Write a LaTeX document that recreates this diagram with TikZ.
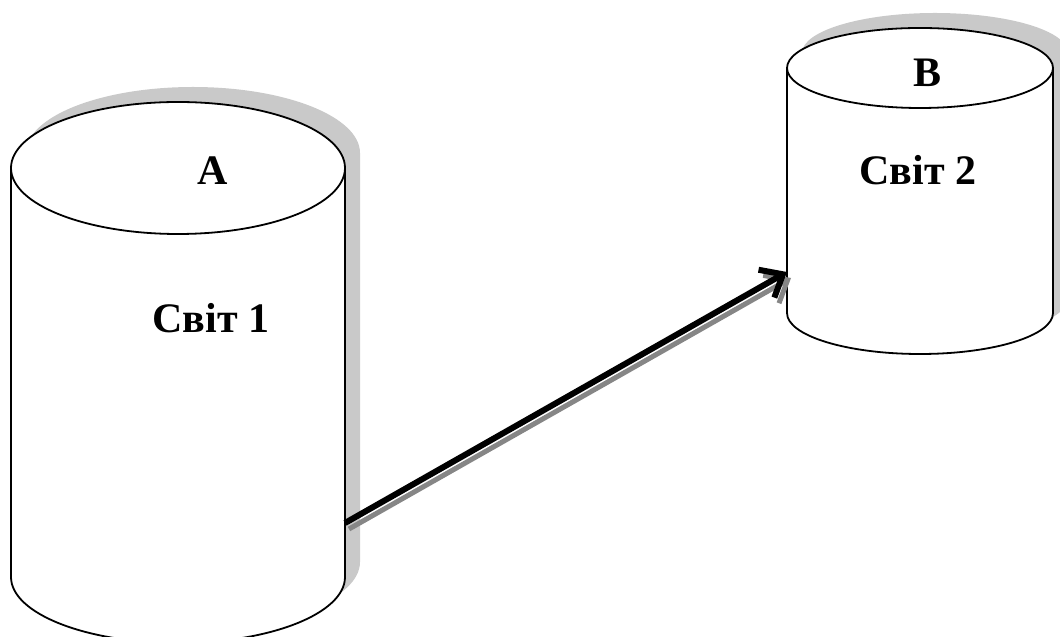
\documentclass[tikz,border=0pt]{standalone}
\usepackage{fontspec}
\setmainfont{Liberation Serif}
\usetikzlibrary{arrows.meta}

\tikzset{
	x=1pt, y=1pt,
	cylshadow/.style = {fill=gray!42, draw=none},
	cylbody/.style = {fill=white, draw=black, line width=1.8pt},
	worldlabel/.style = {anchor=base, inner sep=0pt, font=\fontsize{42}{48}\selectfont\bfseries},
	link/.style = {line width=6pt, -{Straight Barb[length=19pt,width=32pt,line join=miter]}},
}

\begin{document}
\begin{tikzpicture}
	\useasboundingbox (0,0) rectangle (1060,637);

	% shadows
	\fill[cylshadow, shift={(15,15)}] (11,469) arc[start angle=180, end angle=0, x radius=167, y radius=66]
		-- (345,60) arc[start angle=0, end angle=-180, x radius=167, y radius=66] -- cycle;
	\fill[cylshadow, shift={(15,15)}] (787,569) arc[start angle=180, end angle=0, x radius=133, y radius=40]
		-- (1053,324) arc[start angle=0, end angle=-180, x radius=133, y radius=41] -- cycle;

	% cylinder A
	\draw[cylbody] (11,469) -- (11,60) arc[start angle=180, end angle=360, x radius=167, y radius=66] -- (345,469);
	\draw[cylbody] (178,469) ellipse[x radius=167, y radius=66];

	% cylinder B
	\draw[cylbody] (787,569) -- (787,324) arc[start angle=180, end angle=360, x radius=133, y radius=41] -- (1053,569);
	\draw[cylbody] (920,569) ellipse[x radius=133, y radius=40];

	\coordinate (aOut) at (345,114);
	\coordinate (bIn) at (787,365);

	% arrow with its shadow
	\draw[link, draw=gray!95, line width=5pt] ([shift={(4,-6)}]aOut) -- ([shift={(4,-6)}]bIn);
	\draw[link] (aOut) -- (bIn);

	\node[worldlabel] (nameA) at (213,452) {A};
	\node[worldlabel] (worldA) at (211,304) {Світ 1};
	\node[worldlabel] (nameB) at (927,550) {B};
	\node[worldlabel] (worldB) at (918,452) {Світ 2};
\end{tikzpicture}
\end{document}
